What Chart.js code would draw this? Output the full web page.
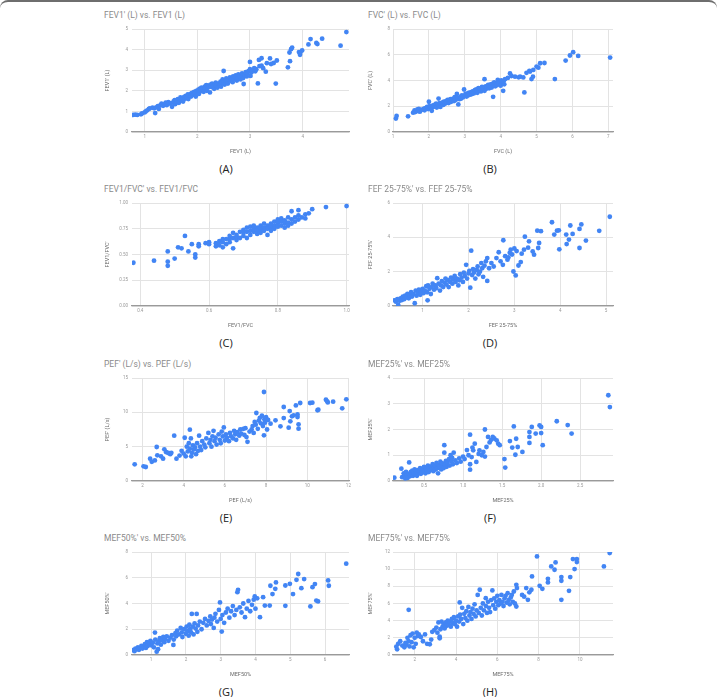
<!DOCTYPE html>
<html>
<head>
<meta charset="utf-8">
<script src="https://cdn.jsdelivr.net/npm/chart.js@4.4.1/dist/chart.umd.min.js"></script>
<style>
    body {
        margin: 0;
        background: #fff;
        width: 717px;
        height: 697px;
        position: relative;
        overflow: hidden;
        font-family: Roboto, sans-serif;
    }
    .frame {
        position: absolute;
        left: 0;
        top: 0;
        width: 717px;
        height: 20px;
        border-top: 2px solid #6e6e6e;
        border-radius: 8px 8px 0 0;
        box-sizing: border-box;
    }
    .panel-title {
        position: absolute;
        font-size: 8.5px;
        line-height: 9px;
        color: #8a8a8a;
        white-space: nowrap;
    }
    .panel-label {
        position: absolute;
        width: 40px;
        margin-left: -20px;
        text-align: center;
        font-family: 'Open Sans', sans-serif;
        font-size: 11px;
        line-height: 11px;
        color: #222;
    }
    canvas { position: absolute; }
</style>
</head>
<body>
<div class="frame"></div>
<script>

const fev1Points = [
    [0.78,0.83],[0.82,0.84],[0.86,0.83],[0.93,0.86],[0.95,0.9],[1.0,0.95],[1.02,1.0],[1.05,1.05],[1.08,1.12],[1.1,1.15],
    [1.15,1.18],[1.18,1.15],[1.2,0.92],[1.22,1.2],[1.25,1.25],[1.27,1.12],[1.3,1.3],[1.32,1.38],[1.35,1.27],[1.38,1.35],
    [1.4,1.42],[1.42,1.3],[1.45,1.45],[1.48,1.38],[1.5,1.4],[1.52,1.22],[1.55,1.48],[1.57,1.55],[1.58,1.35],[1.6,1.52],
    [1.62,1.45],[1.63,1.6],[1.65,1.42],[1.67,1.58],[1.68,1.68],[1.7,1.55],[1.72,1.62],[1.73,1.48],[1.75,1.7],[1.77,1.62],
    [1.78,1.75],[1.8,1.68],[1.82,1.82],[1.83,1.6],[1.85,1.78],[1.87,1.85],[1.88,1.72],[1.9,1.9],[1.92,1.8],[1.94,1.95],
    [1.95,1.85],[1.97,1.72],[1.98,2.0],[2.0,1.92],[2.02,2.05],[2.03,1.85],[2.05,2.1],[2.07,1.98],[2.08,2.15],[2.1,2.05],
    [2.12,1.95],[2.14,2.2],[2.15,2.1],[2.17,2.28],[2.18,2.0],[2.2,2.15],[2.22,2.25],[2.24,1.92],[2.25,2.3],[2.27,2.18],
    [2.28,2.35],[2.3,2.22],[2.32,2.1],[2.34,2.3],[2.35,2.4],[2.37,2.25],[2.38,2.15],[2.4,2.35],[2.42,2.28],[2.44,2.45],
    [2.45,2.2],[2.47,2.38],[2.48,2.55],[2.5,2.96],[2.5,2.42],[2.52,2.3],[2.54,2.5],[2.55,2.6],[2.57,2.45],[2.58,2.35],
    [2.6,2.55],[2.62,2.65],[2.63,2.5],[2.65,2.6],[2.67,2.42],[2.68,2.7],[2.7,2.55],[2.72,2.65],[2.73,2.75],[2.75,2.5],
    [2.77,2.62],[2.78,2.8],[2.8,2.68],[2.82,2.55],[2.84,2.75],[2.85,2.85],[2.87,2.62],[2.88,2.33],[2.9,2.78],[2.92,2.9],
    [2.94,2.7],[2.95,2.85],[2.97,2.95],[3.0,3.4],[3.0,3.05],[3.01,2.72],[3.03,2.9],[3.05,3.0],[3.08,3.1],[3.1,2.95],
    [3.12,3.05],[3.15,2.36],[3.17,3.5],[3.18,3.2],[3.22,3.58],[3.22,3.22],[3.25,3.1],[3.3,2.93],[3.32,3.34],[3.38,3.57],
    [3.4,3.3],[3.45,3.35],[3.49,2.35],[3.51,3.47],[3.72,3.14],[3.76,3.44],[3.75,3.86],[3.78,4.02],[3.8,4.1],[3.93,3.88],
    [3.95,3.75],[3.96,3.88],[3.99,3.96],[4.11,4.25],[4.15,4.51],[4.26,4.32],[4.28,4.27],[4.37,4.53],[4.72,4.19],[4.83,4.85]
];

const fvcPoints = [
    [1.08,1.04],[1.1,1.25],[1.42,1.22],[1.56,1.5],[1.6,1.68],[1.62,1.55],[1.68,1.75],[1.7,1.62],[1.72,1.8],[1.75,1.58],
    [1.8,1.72],[1.85,1.8],[1.88,1.68],[1.9,1.85],[1.95,1.95],[1.98,1.78],[2.0,2.35],[2.02,2.0],[2.05,1.88],[2.08,1.65],
    [2.1,2.05],[2.12,1.95],[2.15,2.1],[2.18,2.0],[2.2,2.2],[2.22,1.9],[2.25,2.15],[2.27,2.6],[2.28,2.05],[2.3,2.25],
    [2.32,1.95],[2.35,2.2],[2.38,2.3],[2.4,2.1],[2.42,2.35],[2.45,2.2],[2.48,2.4],[2.5,2.3],[2.52,2.5],[2.55,2.25],
    [2.58,2.45],[2.6,2.55],[2.62,2.35],[2.65,2.5],[2.68,2.6],[2.7,2.4],[2.72,2.7],[2.75,2.5],[2.78,2.95],[2.8,2.65],
    [2.82,2.14],[2.85,2.55],[2.88,2.75],[2.9,2.6],[2.92,2.85],[2.95,2.7],[2.98,3.3],[3.0,2.8],[3.02,2.95],[3.05,2.75],
    [3.08,3.0],[3.1,2.85],[3.12,3.05],[3.15,2.9],[3.18,3.1],[3.2,2.95],[3.22,3.15],[3.25,3.0],[3.28,3.25],[3.3,3.1],
    [3.32,3.3],[3.35,3.05],[3.38,3.4],[3.4,3.2],[3.42,3.35],[3.45,3.15],[3.48,3.5],[3.5,3.3],[3.52,3.45],[3.55,4.1],
    [3.55,3.2],[3.58,3.55],[3.6,3.35],[3.62,3.5],[3.65,3.65],[3.68,3.4],[3.7,3.55],[3.72,3.7],[3.75,3.45],[3.78,3.75],
    [3.79,2.73],[3.8,3.6],[3.82,3.85],[3.85,3.55],[3.88,3.8],[3.9,3.65],[3.92,4.05],[3.95,3.75],[3.98,3.9],[4.0,3.6],
    [4.02,4.0],[4.05,3.8],[4.07,3.2],[4.08,3.95],[4.1,3.7],[4.12,4.1],[4.2,4.2],[4.26,4.55],[4.3,4.35],[4.4,4.3],
    [4.5,4.25],[4.54,4.3],[4.63,4.24],[4.66,3.07],[4.72,4.6],[4.8,4.75],[4.82,4.69],[4.86,4.11],[4.9,4.3],[4.91,4.82],
    [5.0,5.08],[5.05,5.0],[5.1,5.34],[5.22,5.36],[5.51,4.11],[5.81,5.55],[5.93,5.94],[6.02,6.2],[6.16,5.91],[7.05,5.78]
];

const ratioPoints = [
    [0.38,0.42],[0.44,0.44],[0.48,0.53],[0.48,0.43],[0.48,0.39],[0.50,0.46],[0.51,0.57],[0.52,0.56],[0.53,0.68],[0.54,0.53],
    [0.55,0.60],[0.56,0.50],[0.56,0.47],[0.57,0.60],[0.57,0.58],[0.59,0.61],[0.60,0.62],[0.60,0.60],[0.62,0.61],[0.62,0.58],
    [0.63,0.63],[0.63,0.59],[0.64,0.62],[0.64,0.57],[0.64,0.65],[0.65,0.65],[0.65,0.60],[0.66,0.68],[0.66,0.62],[0.66,0.65],
    [0.67,0.56],[0.67,0.66],[0.67,0.71],[0.68,0.64],[0.68,0.69],[0.68,0.67],[0.69,0.72],[0.69,0.66],[0.70,0.74],[0.70,0.68],
    [0.70,0.71],[0.71,0.72],[0.71,0.66],[0.71,0.76],[0.72,0.73],[0.72,0.69],[0.72,0.77],[0.73,0.78],[0.73,0.72],[0.73,0.75],
    [0.74,0.70],[0.74,0.76],[0.74,0.73],[0.75,0.74],[0.75,0.78],[0.75,0.71],[0.75,0.76],[0.76,0.80],[0.76,0.76],[0.76,0.73],
    [0.77,0.69],[0.77,0.78],[0.77,0.75],[0.78,0.80],[0.78,0.76],[0.78,0.73],[0.78,0.78],[0.79,0.82],[0.79,0.78],[0.79,0.75],
    [0.80,0.84],[0.80,0.80],[0.80,0.77],[0.80,0.82],[0.81,0.82],[0.81,0.78],[0.81,0.85],[0.82,0.80],[0.82,0.83],[0.82,0.76],
    [0.82,0.82],[0.83,0.86],[0.83,0.81],[0.83,0.78],[0.84,0.92],[0.84,0.84],[0.84,0.80],[0.85,0.86],[0.85,0.82],[0.86,0.93],
    [0.86,0.88],[0.86,0.84],[0.87,0.86],[0.88,0.89],[0.88,0.85],[0.89,0.90],[0.90,0.94],[0.94,0.96],[1.00,0.97]
];

const fefPoints = [
    [0.39,0.33],[0.42,0.25],[0.45,0.4],[0.47,0.06],[0.5,0.3],[0.52,0.45],[0.55,0.35],[0.57,0.55],[0.6,0.4],[0.62,0.6],
    [0.65,0.5],[0.67,0.7],[0.7,0.45],[0.72,0.62],[0.75,0.8],[0.77,0.55],[0.8,0.7],[0.83,0.16],[0.85,0.9],[0.87,0.6],
    [0.9,0.75],[0.92,0.95],[0.95,0.65],[0.97,0.85],[1.0,1.0],[1.02,0.75],[1.05,0.9],[1.08,1.15],[1.1,0.8],[1.11,0.33],
    [1.12,1.2],[1.15,1.0],[1.18,0.7],[1.2,1.1],[1.22,1.3],[1.25,0.95],[1.28,1.2],[1.3,1.05],[1.32,1.62],[1.35,1.3],
    [1.38,0.9],[1.4,1.2],[1.42,1.45],[1.45,1.1],[1.48,1.35],[1.5,1.6],[1.52,1.25],[1.55,1.5],[1.57,1.1],[1.6,1.4],
    [1.62,1.65],[1.65,1.3],[1.67,1.55],[1.7,1.75],[1.72,1.4],[1.75,1.6],[1.78,1.2],[1.8,1.5],[1.82,1.85],[1.85,1.65],
    [1.88,1.4],[1.9,1.95],[1.92,1.75],[1.95,2.4],[1.97,1.6],[2.0,1.9],[2.02,2.05],[2.04,1.07],[2.06,3.22],[2.08,1.8],
    [2.1,2.15],[2.12,1.95],[2.15,1.6],[2.18,2.1],[2.2,2.3],[2.22,1.85],[2.25,2.0],[2.28,2.5],[2.3,2.2],[2.32,1.7],
    [2.35,2.35],[2.38,2.6],[2.41,1.46],[2.41,2.79],[2.45,2.2],[2.5,2.5],[2.55,2.3],[2.61,2.79],[2.66,3.13],[2.7,2.6],
    [2.75,2.4],[2.76,3.83],[2.8,2.9],[2.85,2.7],[2.87,2.83],[2.9,3.1],[2.92,3.28],[2.95,3.0],[2.98,2.01],[3.0,3.35],
    [3.03,1.78],[3.05,3.2],[3.09,2.36],[3.14,2.56],[3.16,3.05],[3.21,3.28],[3.23,4.04],[3.3,3.4],[3.32,3.77],[3.4,3.18],
    [3.43,2.99],[3.5,4.39],[3.52,3.38],[3.54,3.67],[3.58,4.36],[3.82,4.88],[3.87,4.16],[3.93,4.39],[3.97,4.41],[3.98,3.3],
    [4.13,4.16],[4.14,3.61],[4.19,3.87],[4.22,4.69],[4.27,4.2],[4.42,4.49],[4.42,3.38],[4.46,4.75],[4.56,3.81],[4.85,4.38],
    [5.08,5.2]
];

const pefPoints = [
    [1.62,2.43],[2.05,2.14],[2.16,2.04],[2.37,3.25],[2.45,2.8],[2.6,3.0],[2.69,4.95],[2.72,3.74],[2.9,3.6],[3.0,3.25],
    [3.06,4.61],[3.15,4.2],[3.25,4.08],[3.35,3.9],[3.4,4.1],[3.54,6.6],[3.65,3.25],[3.8,3.7],[3.9,4.4],[4.0,4.0],
    [4.05,6.3],[4.1,3.6],[4.15,5.0],[4.2,4.3],[4.25,5.5],[4.3,7.48],[4.3,4.7],[4.35,6.2],[4.37,3.6],[4.4,4.1],
    [4.45,5.2],[4.5,4.6],[4.55,4.9],[4.6,3.9],[4.65,5.5],[4.7,4.4],[4.75,6.6],[4.8,5.0],[4.85,4.5],[4.9,5.8],
    [5.0,5.3],[5.05,4.9],[5.1,6.2],[5.2,7.0],[5.25,5.5],[5.3,6.0],[5.35,5.0],[5.4,6.5],[5.45,7.3],[5.5,5.8],
    [5.55,6.3],[5.6,5.3],[5.7,6.8],[5.75,6.0],[5.8,5.5],[5.85,7.2],[5.9,6.5],[5.95,7.8],[6.0,5.9],[6.05,6.8],
    [6.1,6.3],[6.2,5.8],[6.25,7.0],[6.3,6.5],[6.4,6.2],[6.45,7.3],[6.5,6.8],[6.55,6.0],[6.6,7.1],[6.7,6.6],
    [6.75,7.5],[6.8,6.9],[6.9,7.6],[6.95,6.7],[7.0,7.7],[7.05,6.4],[7.1,5.7],[7.2,7.2],[7.3,7.5],[7.35,8.0],
    [7.4,7.0],[7.45,8.6],[7.5,8.2],[7.53,9.9],[7.6,7.6],[7.65,8.8],[7.7,9.2],[7.75,8.4],[7.8,9.5],[7.85,8.0],
    [7.9,12.96],[7.9,6.65],[7.92,9.0],[7.95,8.5],[8.0,9.3],[8.05,7.5],[8.1,8.9],[8.22,8.35],[8.46,8.83],[8.7,7.96],
    [8.86,9.17],[8.86,10.78],[9.1,7.77],[9.15,10.19],[9.18,8.69],[9.26,9.42],[9.34,9.56],[9.45,11.0],[9.53,9.32],[9.53,9.7],
    [9.58,8.25],[9.58,7.62],[9.66,11.36],[10.14,11.36],[10.25,11.4],[10.5,10.3],[10.54,10.39],[10.91,11.84],[10.97,11.6],[11.0,11.45],
    [11.26,11.55],[11.7,10.58],[11.9,11.9]
];

const mef25Points = [
    [0.12,0.13],[0.21,0.48],[0.22,0.15],[0.24,0.3],[0.25,0.2],[0.26,0.1],[0.27,0.35],[0.28,0.22],[0.29,0.12],[0.3,0.28],
    [0.31,0.72],[0.32,0.18],[0.33,0.35],[0.34,0.25],[0.35,0.4],[0.36,0.2],[0.37,0.3],[0.38,0.45],[0.39,0.25],[0.4,0.35],
    [0.41,0.2],[0.42,0.42],[0.43,0.3],[0.44,0.38],[0.45,0.5],[0.46,0.28],[0.47,0.4],[0.48,0.33],[0.49,0.45],[0.5,0.55],
    [0.51,0.38],[0.52,0.3],[0.53,0.48],[0.54,0.4],[0.55,0.6],[0.56,0.35],[0.57,0.5],[0.58,0.42],[0.59,0.55],[0.6,0.45],
    [0.61,0.65],[0.62,0.38],[0.63,0.52],[0.64,0.6],[0.65,0.45],[0.66,0.7],[0.67,0.5],[0.68,0.3],[0.69,0.62],[0.7,0.55],
    [0.71,0.75],[0.72,0.45],[0.73,0.6],[0.74,0.68],[0.75,0.5],[0.76,1.39],[0.76,1.1],[0.77,0.65],[0.78,0.78],[0.79,0.55],
    [0.8,0.7],[0.82,0.85],[0.83,0.6],[0.84,1.0],[0.85,0.75],[0.86,0.9],[0.87,0.65],[0.88,1.1],[0.9,0.8],[0.92,0.7],
    [0.95,0.88],[0.97,0.75],[1.0,0.95],[1.02,0.85],[1.05,1.2],[1.07,1.0],[1.09,1.8],[1.09,0.65],[1.09,0.44],[1.11,0.93],
    [1.12,1.3],[1.13,1.19],[1.15,1.45],[1.17,0.74],[1.2,1.05],[1.21,1.19],[1.24,1.0],[1.26,1.13],[1.28,2.0],[1.28,0.95],
    [1.3,1.32],[1.32,1.71],[1.34,1.5],[1.36,1.6],[1.38,1.71],[1.4,1.65],[1.43,1.58],[1.45,1.45],[1.47,1.39],[1.53,0.85],
    [1.54,0.52],[1.6,1.55],[1.63,1.3],[1.65,2.12],[1.67,1.02],[1.68,1.64],[1.7,1.32],[1.76,1.13],[1.85,1.71],[1.85,1.9],
    [1.85,1.48],[1.88,2.1],[1.93,1.84],[1.98,2.16],[2.0,2.1],[2.0,1.86],[2.02,1.39],[2.2,2.32],[2.34,2.17],[2.39,1.84],
    [2.86,3.33],[2.88,2.87]
];

const mef50Points = [
    [0.49,0.39],[0.52,0.3],[0.55,0.5],[0.6,0.45],[0.62,0.6],[0.65,0.4],[0.7,0.55],[0.72,0.7],[0.75,0.5],[0.8,0.65],
    [0.82,0.85],[0.85,0.55],[0.88,1.0],[0.9,0.7],[0.95,0.9],[0.98,1.1],[1.0,0.75],[1.05,0.95],[1.08,0.6],[1.11,1.74],
    [1.12,1.2],[1.16,0.26],[1.18,0.9],[1.2,0.45],[1.22,1.05],[1.25,1.3],[1.28,0.8],[1.3,1.15],[1.35,1.4],[1.38,1.0],
    [1.4,1.25],[1.45,1.45],[1.5,1.1],[1.55,1.35],[1.6,1.55],[1.64,0.78],[1.65,1.2],[1.7,1.7],[1.72,1.45],[1.75,1.9],
    [1.8,1.6],[1.85,2.1],[1.88,1.75],[1.9,1.4],[1.95,2.0],[2.0,1.65],[2.02,2.2],[2.05,1.85],[2.08,1.5],[2.1,2.35],
    [2.12,2.0],[2.15,1.75],[2.17,3.19],[2.2,2.2],[2.22,1.6],[2.25,2.45],[2.28,2.05],[2.31,3.19],[2.33,1.8],[2.35,2.3],
    [2.4,2.6],[2.45,2.0],[2.5,2.5],[2.55,2.8],[2.6,2.3],[2.65,2.65],[2.7,3.0],[2.72,2.4],[2.75,2.75],[2.8,2.1],
    [2.82,2.9],[2.85,3.2],[2.9,2.6],[2.95,3.5],[2.98,4.08],[3.0,2.8],[3.03,1.82],[3.05,3.1],[3.1,2.5],[3.15,3.3],
    [3.2,3.6],[3.25,2.9],[3.3,3.4],[3.35,3.8],[3.4,3.1],[3.45,3.5],[3.48,4.88],[3.5,5.06],[3.55,3.7],[3.6,3.3],
    [3.65,4.0],[3.7,2.94],[3.75,3.6],[3.8,4.2],[3.85,3.4],[3.9,3.9],[3.95,4.3],[3.98,4.55],[4.0,3.6],[4.05,4.4],
    [4.13,2.94],[4.22,4.49],[4.27,3.84],[4.41,3.84],[4.43,5.38],[4.49,4.73],[4.57,5.14],[4.59,5.64],[4.86,5.4],[4.86,3.82],
    [4.99,5.53],[5.08,4.73],[5.18,5.84],[5.23,6.29],[5.32,5.19],[5.4,5.9],[5.58,3.77],[5.64,5.27],[5.71,5.51],[5.75,4.23],
    [5.8,4.16],[6.09,5.79],[6.11,5.38],[6.61,7.09]
];

const mef75Points = [
    [1.11,0.97],[1.15,0.66],[1.2,1.3],[1.3,1.6],[1.4,1.1],[1.5,0.9],[1.55,1.4],[1.6,1.2],[1.65,2.0],[1.71,5.26],
    [1.7,1.6],[1.75,1.0],[1.8,2.3],[1.85,1.5],[1.9,2.5],[1.95,0.9],[2.0,2.0],[2.05,1.3],[2.1,2.6],[2.15,2.2],
    [2.2,2.4],[2.3,2.1],[2.4,1.6],[2.5,2.4],[2.6,1.3],[2.73,1.25],[2.8,1.8],[2.85,2.7],[2.95,2.9],[3.05,3.2],
    [3.1,2.6],[3.15,3.8],[3.21,2.14],[3.21,1.95],[3.25,3.0],[3.3,3.9],[3.35,3.3],[3.4,3.6],[3.45,3.1],[3.5,3.8],
    [3.55,3.4],[3.6,4.0],[3.65,3.5],[3.7,3.9],[3.75,3.3],[3.8,4.2],[3.85,3.7],[3.9,4.4],[3.95,3.6],[4.0,4.0],
    [4.05,3.3],[4.1,4.5],[4.15,3.9],[4.18,6.12],[4.2,4.7],[4.25,4.2],[4.3,5.5],[4.35,3.6],[4.4,4.8],[4.45,4.3],
    [4.5,5.1],[4.55,4.0],[4.6,5.6],[4.65,4.6],[4.7,5.0],[4.75,4.2],[4.8,5.4],[4.85,4.8],[4.9,5.9],[4.95,4.5],
    [5.0,5.2],[5.05,7.0],[5.1,4.9],[5.15,7.6],[5.2,5.5],[5.25,4.6],[5.3,6.0],[5.35,5.2],[5.44,6.62],[5.45,5.7],
    [5.5,4.9],[5.55,6.2],[5.6,5.5],[5.65,5.0],[5.7,6.4],[5.76,7.52],[5.8,5.8],[5.85,6.6],[5.9,5.4],[5.95,6.2],
    [6.0,6.9],[6.05,5.8],[6.1,6.4],[6.15,6.0],[6.2,7.0],[6.25,6.2],[6.3,5.7],[6.35,6.6],[6.4,6.9],[6.45,6.1],
    [6.5,7.2],[6.55,6.4],[6.6,5.9],[6.65,6.7],[6.7,7.0],[6.75,6.2],[6.8,7.4],[6.85,6.0],[6.92,8.18],[6.92,5.65],
    [6.95,7.8],[7.2,7.0],[7.3,6.8],[7.4,7.8],[7.48,6.43],[7.55,7.3],[7.65,7.6],[7.68,9.15],[7.92,11.49],[8.05,8.06],
    [8.18,7.71],[8.45,8.88],[8.45,8.45],[8.61,10.32],[8.77,9.93],[8.82,10.79],[9.1,9.08],[9.1,8.65],[9.1,6.43],[9.47,7.48],
    [9.53,9.08],[9.66,11.18],[9.74,10.01],[9.85,11.18],[9.85,10.83],[11.16,10.32],[11.44,11.88]
];

// Panel texts and axis ranges
const panelLetters = ['A', 'B', 'C', 'D', 'E', 'F', 'G', 'H'];
const panelTitles = [
    "FEV1' (L) vs. FEV1 (L)", "FVC' (L) vs. FVC (L)",
    "FEV1/FVC' vs. FEV1/FVC", "FEF 25-75%' vs. FEF 25-75%",
    "PEF' (L/s) vs. PEF (L/s)", "MEF25%' vs. MEF25%",
    "MEF50%' vs. MEF50%", "MEF75%' vs. MEF75%"
];
const xTitles = ['FEV1 (L)', 'FVC (L)', 'FEV1/FVC', 'FEF 25-75%', 'PEF (L/s)', 'MEF25%', 'MEF50%', 'MEF75%'];
const yTitles = ["FEV1' (L)", "FVC' (L)", "FEV1/FVC'", "FEF 25-75%'", "PEF' (L/s)", "MEF25%'", "MEF50%'", "MEF75%'"];
const xRanges = [[0.76, 4.88, 1], [1.0, 7.13, 1], [0.376, 1.007, 0.2], [0.356, 5.15, 1],
                 [1.49, 12.03, 2], [0.103, 2.92, 0.5], [0.45, 6.69, 1], [0.95, 11.6, 2]];
const yRanges = [[5, 1], [8, 2], [1, 0.25], [6, 2], [15, 5], [4, 1], [8, 2], [12, 2]];
const panelData = [fev1Points, fvcPoints, ratioPoints, fefPoints, pefPoints, mef25Points, mef50Points, mef75Points];

// Page geometry
const colPlotLeft = [132, 393];
const colPlotWidth = [217, 220];
const rowPlotTop = [29, 203, 378, 552];
const plotHeight = 103;
const colLabelX = [226, 490];
const yAxisW = 40;
const xAxisH = 30;
const padTop = 6;
const padRight = 10;

function addText(cls, text, left, top) {
    const el = document.createElement('div');
    el.className = cls;
    el.textContent = text;
    el.style.left = left + 'px';
    el.style.top = top + 'px';
    document.body.appendChild(el);
}

function drawPanel(i) {
    const col = i % 2;
    const row = Math.floor(i / 2);
    const plotLeft = colPlotLeft[col];
    const plotTop = rowPlotTop[row];

    addText('panel-title', panelTitles[i], col === 0 ? 104 : 368, plotTop - 18.5);
    addText('panel-label', '(' + panelLetters[i] + ')', colLabelX[col], plotTop + 134);

    const canvas = document.createElement('canvas');
    const w = colPlotWidth[col] + yAxisW + padRight;
    const h = plotHeight + padTop + xAxisH;
    canvas.width = w;
    canvas.height = h;
    canvas.style.left = (plotLeft - yAxisW) + 'px';
    canvas.style.top = (plotTop - padTop) + 'px';
    document.body.appendChild(canvas);

    const [xMin, xMax, xStep] = xRanges[i];
    const [yMax, yStep] = yRanges[i];
    const tickFont = { family: 'Roboto', size: 4.5 };
    const titleFont = { family: 'Roboto', size: 5.5 };

    new Chart(canvas, {
        type: 'scatter',
        data: {
            datasets: [{
                data: panelData[i].map(p => ({ x: p[0], y: p[1] })),
                backgroundColor: '#4285f4',
                borderWidth: 0,
                pointRadius: 2.4
            }]
        },
        options: {
            responsive: false,
            animation: false,
            layout: { padding: { top: padTop, right: padRight, left: 0, bottom: 0 } },
            plugins: { legend: { display: false }, tooltip: { enabled: false } },
            scales: {
                x: {
                    min: xMin,
                    max: xMax,
                    ticks: { stepSize: xStep, includeBounds: false, font: tickFont, color: '#9a9a9a', padding: 2, maxRotation: 0 },
                    grid: { color: '#e3e3e3', drawTicks: false },
                    border: { color: '#9a9a9a', width: 1.3 },
                    title: { display: true, text: xTitles[i], font: titleFont, color: '#6a6a6a', padding: { top: 0, bottom: 6.7 } },
                    afterFit: s => { s.height = xAxisH; s.paddingLeft = 0; s.paddingRight = 0; }
                },
                y: {
                    min: 0,
                    max: yMax,
                    ticks: {
                        stepSize: yStep, font: tickFont, color: '#9a9a9a', padding: col === 0 ? 4 : 3,
                        callback: v => i === 2 ? v.toFixed(2) : v
                    },
                    grid: { color: '#e3e3e3', drawTicks: false },
                    border: { display: false },
                    title: { display: true, text: yTitles[i], font: titleFont, color: '#6a6a6a', padding: { top: col === 0 ? 12.7 : 14.7, bottom: 0 } },
                    afterFit: s => { s.width = yAxisW; s.paddingTop = 0; s.paddingBottom = 0; }
                }
            }
        }
    });
}

panelLetters.forEach((_, i) => drawPanel(i));
</script>
</body>
</html>
